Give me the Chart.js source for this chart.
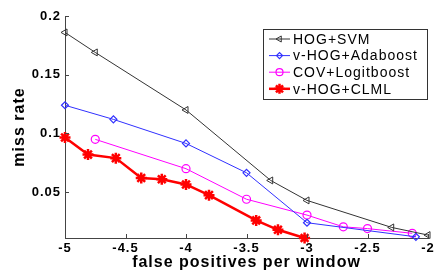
<!DOCTYPE html>
<html>
<head>
<meta charset="utf-8">
<script src="https://cdn.jsdelivr.net/npm/chart.js@4"></script>
<style>
  html, body { margin: 0; padding: 0; background: #fff; }
  #wrap { width: 436px; height: 274px; }
</style>
</head>
<body>
<div id="wrap"><canvas id="rocChart" width="436" height="274"></canvas></div>
<script>
// Data
const seriesLabels = ['HOG+SVM', 'v-HOG+Adaboost', 'COV+Logitboost', 'v-HOG+CLML'];

const xSvm = [-5, -4.75, -4, -3.3, -3, -2.3, -2];
const ySvm = [0.186, 0.169, 0.120, 0.060, 0.043, 0.020, 0.0135];

const xAda = [-5, -4.6, -4, -3.5, -3, -2.1];
const yAda = [0.124, 0.112, 0.0915, 0.0665, 0.024, 0.012];

const xCov = [-4.75, -4, -3.5, -3, -2.7, -2.5, -2.13];
const yCov = [0.095, 0.070, 0.044, 0.0305, 0.0205, 0.019, 0.015];

const xClml = [-5, -4.81, -4.58, -4.37, -4.2, -4, -3.81, -3.42, -3.24, -3.02];
const yClml = [0.0966, 0.082, 0.079, 0.062, 0.061, 0.0566, 0.0475, 0.026, 0.018, 0.011];

const xTicks = [-5, -4.5, -4, -3.5, -3, -2.5, -2];
const yTicks = [0.05, 0.1, 0.15, 0.2];

const toPoints = (xs, ys) => xs.map((x, i) => ({ x: x, y: ys[i] }));

const FONT = '"Liberation Sans", Arial, sans-serif';

// the old MATLAB export has wide letter spacing everywhere
const spacing = {
    id: 'spacing',
    beforeUpdate(chart) { chart.ctx.letterSpacing = '1px'; },
    beforeDraw(chart) { chart.ctx.letterSpacing = '1px'; }
};

// MATLAB-style inward tick marks
const inwardTicks = {
    id: 'inwardTicks',
    afterDraw(chart) {
        const ctx = chart.ctx;
        const area = chart.chartArea;
        const xs = chart.scales.x, ys = chart.scales.y;
        ctx.save();
        ctx.strokeStyle = '#444';
        ctx.lineWidth = 1;
        ctx.beginPath();
        xTicks.forEach(v => {
            const px = Math.round(xs.getPixelForValue(v)) + 0.5;
            ctx.moveTo(px, area.bottom);
            ctx.lineTo(px, area.bottom - 4);
        });
        yTicks.forEach(v => {
            const py = Math.round(ys.getPixelForValue(v)) + 0.5;
            ctx.moveTo(area.left, py);
            ctx.lineTo(area.left + 4, py);
        });
        ctx.stroke();
        ctx.restore();
    }
};

// boxed legend inside the plot, top right
const boxLegend = {
    id: 'boxLegend',
    afterDraw(chart) {
        const ctx = chart.ctx;
        const bx = 263, by = 29, bw = 164, bh = 70;
        ctx.save();
        ctx.fillStyle = '#fff';
        ctx.fillRect(bx, by, bw, bh);
        ctx.strokeStyle = '#333';
        ctx.lineWidth = 1;
        ctx.strokeRect(bx + 0.5, by + 0.5, bw, bh);
        chart.data.datasets.forEach((ds, i) => {
            const cy = by + 10 + i * 16.6;
            ctx.strokeStyle = ds.borderColor;
            ctx.lineWidth = ds.borderWidth;
            ctx.beginPath();
            ctx.moveTo(bx + 6, cy);
            ctx.lineTo(bx + 27, cy);
            ctx.stroke();
            ctx.fillStyle = ds.pointBackgroundColor;
            ctx.lineWidth = ds.pointBorderWidth;
            Chart.helpers.drawPoint(ctx, {
                pointStyle: ds.pointStyle,
                rotation: ds.pointRotation || 0,
                radius: ds.pointRadius - 0.5,
                borderWidth: ds.pointBorderWidth
            }, bx + 16.5, cy);
            ctx.fillStyle = '#000';
            ctx.font = '14px ' + FONT;
            ctx.textBaseline = 'middle';
            ctx.fillText(ds.label, bx + 30, cy + 1);
        });
        ctx.restore();
    }
};

const ctx = document.getElementById('rocChart').getContext('2d');
new Chart(ctx, {
    type: 'line',
    data: {
        datasets: [
            {
                label: seriesLabels[0],
                data: toPoints(xSvm, ySvm),
                borderColor: '#333333',
                borderWidth: 1,
                pointStyle: 'triangle',
                pointRotation: -90,
                pointRadius: 4,
                pointBorderWidth: 1,
                pointBackgroundColor: 'rgba(0,0,0,0)',
                clip: false
            },
            {
                label: seriesLabels[1],
                data: toPoints(xAda, yAda),
                borderColor: '#3030ff',
                borderWidth: 1,
                pointStyle: 'rectRot',
                pointRadius: 3.5,
                pointBorderWidth: 1.2,
                pointBackgroundColor: 'rgba(0,0,0,0)',
                clip: false
            },
            {
                label: seriesLabels[2],
                data: toPoints(xCov, yCov),
                borderColor: '#ff00ff',
                borderWidth: 1,
                pointStyle: 'circle',
                pointRadius: 4,
                pointBorderWidth: 1.2,
                pointBackgroundColor: 'rgba(0,0,0,0)',
                clip: false
            },
            {
                label: seriesLabels[3],
                data: toPoints(xClml, yClml),
                borderColor: '#ff0000',
                borderWidth: 2.5,
                pointStyle: 'star',
                pointRadius: 5.5,
                pointBorderWidth: 2.5,
                pointBackgroundColor: '#ff0000',
                clip: false
            }
        ]
    },
    options: {
        responsive: false,
        animation: false,
        events: [],
        layout: {
            padding: { top: 16, right: 6, left: 0, bottom: 0 }
        },
        scales: {
            x: {
                type: 'linear',
                min: -5,
                max: -2,
                afterBuildTicks: (scale) => { scale.ticks = xTicks.map(v => ({ value: v })); },
                afterFit: (scale) => {
                    scale.height = 36;
                    scale.paddingLeft = 0;
                    scale.paddingRight = 0;
                },
                grid: { drawOnChartArea: false, drawTicks: false },
                border: { color: '#444', width: 1 },
                ticks: {
                    padding: 3,
                    color: '#000',
                    maxRotation: 0,
                    font: { family: FONT, size: 13, weight: 'bold' },
                    callback: (v) => String(v)
                },
                title: {
                    display: true,
                    text: 'false positives per window',
                    color: '#000',
                    padding: { top: 0, bottom: 2 },
                    font: { family: FONT, size: 16, weight: 'bold' }
                }
            },
            y: {
                type: 'linear',
                min: 0.011,
                max: 0.2,
                afterBuildTicks: (scale) => { scale.ticks = yTicks.map(v => ({ value: v })); },
                afterFit: (scale) => { scale.width = 65; },
                grid: { drawOnChartArea: false, drawTicks: false },
                border: { color: '#444', width: 1 },
                ticks: {
                    padding: 4,
                    color: '#000',
                    font: { family: FONT, size: 13, weight: 'bold' },
                    callback: (v) => String(v)
                },
                title: {
                    display: true,
                    text: 'miss rate',
                    color: '#000',
                    padding: { top: 10, bottom: 0 },
                    font: { family: FONT, size: 16, weight: 'bold' }
                }
            }
        },
        plugins: {
            legend: { display: false },
            tooltip: { enabled: false }
        }
    },
    plugins: [spacing, inwardTicks, boxLegend]
});
</script>
</body>
</html>
